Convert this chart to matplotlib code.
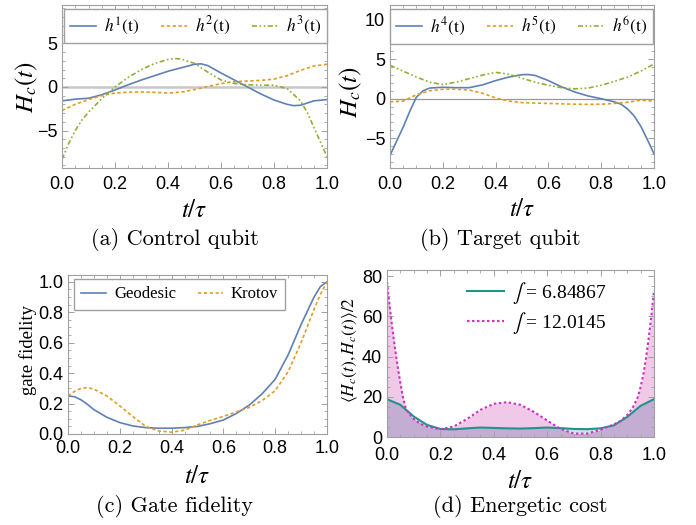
import numpy as np
import matplotlib
matplotlib.use("Agg")
import matplotlib.pyplot as plt
from matplotlib.ticker import MultipleLocator

plt.rcParams['mathtext.fontset'] = 'stix'
plt.rcParams['font.family'] = ['Liberation Sans', 'DejaVu Sans']

# ---------------- data ----------------
t_a = [0, 0.05, 0.1, 0.15, 0.2, 0.25, 0.3, 0.35, 0.4, 0.45, 0.5, 0.525, 0.55, 0.6, 0.65, 0.7, 0.75, 0.8, 0.85, 0.875, 0.9, 0.95, 1.0]
h1 = [-1.6, -1.4, -1.3, -0.9, -0.35, 0.25, 0.8, 1.3, 1.8, 2.2, 2.6, 2.65, 2.45, 1.6, 0.8, 0.0, -0.8, -1.5, -2.0, -2.15, -2.1, -1.6, -1.45]
t_h2 = [0, 0.05, 0.1, 0.15, 0.2, 0.25, 0.3, 0.35, 0.4, 0.45, 0.5, 0.55, 0.6, 0.65, 0.7, 0.75, 0.8, 0.85, 0.9, 0.95, 1.0]
h2 = [-2.7, -2.0, -1.45, -1.0, -0.7, -0.6, -0.57, -0.62, -0.7, -0.6, -0.3, 0.05, 0.38, 0.6, 0.68, 0.75, 0.9, 1.3, 1.9, 2.4, 2.6]
t_h3 = [0, 0.025, 0.05, 0.075, 0.1, 0.15, 0.2, 0.25, 0.3, 0.35, 0.4, 0.43, 0.45, 0.5, 0.55, 0.6, 0.65, 0.7, 0.75, 0.8, 0.85, 0.9, 0.925, 0.95, 0.975, 1.0]
h3 = [-8.3, -6.5, -5.0, -3.8, -2.9, -1.35, 0.0, 1.1, 2.0, 2.7, 3.15, 3.25, 3.2, 2.7, 1.7, 0.8, 0.4, 0.25, 0.2, 0.2, -0.2, -1.6, -2.9, -4.6, -6.3, -8.0]

t_h4 = [0, 0.025, 0.05, 0.075, 0.1, 0.125, 0.15, 0.2, 0.25, 0.3, 0.35, 0.4, 0.45, 0.5, 0.525, 0.55, 0.6, 0.65, 0.7, 0.75, 0.8, 0.85, 0.875, 0.9, 0.925, 0.95, 0.975, 1.0]
h4 = [-7.2, -5.4, -3.6, -1.6, 0.2, 1.0, 1.35, 1.45, 1.4, 1.4, 1.75, 2.3, 2.75, 3.05, 3.07, 2.95, 2.3, 1.5, 0.85, 0.35, 0.0, -0.4, -0.7, -1.3, -2.2, -3.5, -5.2, -7.0]
t_b = [0, 0.05, 0.1, 0.15, 0.2, 0.25, 0.3, 0.35, 0.4, 0.45, 0.5, 0.55, 0.6, 0.65, 0.7, 0.75, 0.8, 0.85, 0.9, 0.95, 1.0]
h5 = [-0.4, -0.3, 0.5, 1.0, 1.2, 1.2, 1.1, 0.7, 0.1, -0.3, -0.5, -0.55, -0.6, -0.65, -0.7, -0.72, -0.7, -0.6, -0.45, -0.2, -0.3]
h6 = [4.25, 3.5, 2.75, 2.1, 1.8, 2.1, 2.55, 3.0, 3.35, 3.1, 2.6, 2.1, 1.7, 1.4, 1.25, 1.35, 1.7, 2.2, 2.75, 3.5, 4.4]

t_c = [0, 0.025, 0.05, 0.075, 0.1, 0.15, 0.2, 0.25, 0.3, 0.35, 0.4, 0.45, 0.5, 0.55, 0.6, 0.65, 0.7, 0.75, 0.8, 0.85, 0.9, 0.95, 0.975, 1.0]
geodesic = [0.25, 0.245, 0.225, 0.195, 0.16, 0.11, 0.075, 0.053, 0.042, 0.038, 0.038, 0.042, 0.05, 0.068, 0.092, 0.135, 0.19, 0.265, 0.36, 0.52, 0.72, 0.9, 0.97, 1.0]
krotov = [0.25, 0.28, 0.30, 0.305, 0.295, 0.25, 0.185, 0.115, 0.05, 0.02, 0.012, 0.025, 0.06, 0.09, 0.115, 0.145, 0.175, 0.22, 0.285, 0.41, 0.6, 0.82, 0.92, 1.0]

t_d1 = [0, 0.05, 0.1, 0.15, 0.2, 0.25, 0.3, 0.35, 0.4, 0.45, 0.5, 0.55, 0.6, 0.65, 0.7, 0.75, 0.8, 0.85, 0.9, 0.95, 1.0]
cost_geo = [18.8, 16.0, 10.2, 6.0, 4.0, 3.8, 4.3, 4.7, 4.5, 4.3, 4.2, 4.4, 4.7, 4.4, 4.0, 3.9, 4.3, 5.8, 10.0, 15.5, 18.8]
t_d2 = [0, 0.01, 0.02, 0.03, 0.04, 0.05, 0.06, 0.07, 0.08, 0.1, 0.125, 0.15, 0.2, 0.25, 0.3, 0.35, 0.4, 0.45, 0.5, 0.55, 0.6, 0.65, 0.7, 0.75, 0.8, 0.85, 0.875, 0.9, 0.92, 0.94, 0.95, 0.96, 0.97, 0.98, 0.99, 1.0]
cost_krot = [77, 65, 54, 44, 35, 27, 19.5, 14.5, 12, 9, 6.5, 5.2, 3.8, 5.2, 9.0, 13.5, 16.5, 17.3, 16.0, 12.5, 8.2, 4.0, 1.7, 1.7, 3.6, 6.3, 8.0, 11.0, 14.5, 20, 25, 31, 39, 49, 60, 73]

blue, orange, green = '#5E81B5', '#E19C24', '#8FB032'
teal, magenta = '#23918C', '#CC33C0'
frame_col = '#A0A0A0'
dash_or = (0, (2, 1.5))
dash_gr = (0, (3, 1.5, 1, 1.5, 1, 1.5))
LW = 1.2

fig = plt.figure(figsize=(6.96, 5.25), dpi=100)
W, H = 696, 525

def make_ax(x0, x1, y0, y1):
    return fig.add_axes([x0 / W, 1 - y1 / H, (x1 - x0) / W, (y1 - y0) / H])

def style(ax, xpad, ypad, ymin_loc):
    for s in ax.spines.values():
        s.set_color(frame_col)
        s.set_linewidth(0.8)
    ax.tick_params(which='both', direction='in', top=True, right=True, colors=frame_col,
                   labelcolor='black', labelsize=13)
    ax.tick_params(which='major', length=4, width=0.7)
    ax.tick_params(which='minor', length=2, width=0.6)
    ax.tick_params(axis='x', pad=xpad)
    ax.tick_params(axis='y', pad=ypad)
    ax.set_xlim(0, 1)
    ax.xaxis.set_major_locator(MultipleLocator(0.2))
    ax.xaxis.set_minor_locator(MultipleLocator(0.05))
    ax.yaxis.set_minor_locator(MultipleLocator(ymin_loc))
    ax.xaxis.set_major_formatter(matplotlib.ticker.FormatStrFormatter('%.1f'))

leg_kw = dict(ncol=3, fontsize=12.5, frameon=True, fancybox=False, edgecolor=frame_col,
              handlelength=1.5, handletextpad=0.45, columnspacing=1.25, borderpad=0.35,
              borderaxespad=0, framealpha=1)

# ---------- (a) ----------
axa = make_ax(62, 327, 5, 168)
axa.axhline(0, color='#C8C8C8', lw=1.8, zorder=1)
axa.plot(t_a, h1, color=blue, lw=LW, label=r'$h^1(\mathrm{t})$')
axa.plot(t_h2, h2, color=orange, lw=LW, ls=dash_or, label=r'$h^2(\mathrm{t})$')
axa.plot(t_h3, h3, color=green, lw=LW, ls=dash_gr, label=r'$h^3(\mathrm{t})$')
axa.set_ylim(-9.3, 9.4)
axa.yaxis.set_major_locator(MultipleLocator(5))
style(axa, 6, 3.5, 1)
axa.legend(loc='upper center', bbox_to_anchor=(0.504, 0.975), **leg_kw)

# ---------- (b) ----------
axb = make_ax(390, 654, 5, 168)
axb.axhline(0, color='#999999', lw=0.9, zorder=1)
axb.plot(t_h4, h4, color=blue, lw=LW, label=r'$h^4(\mathrm{t})$')
axb.plot(t_b, h5, color=orange, lw=LW, ls=dash_or, label=r'$h^5(\mathrm{t})$')
axb.plot(t_b, h6, color=green, lw=LW, ls=dash_gr, label=r'$h^6(\mathrm{t})$')
axb.set_ylim(-8.8, 11.9)
axb.yaxis.set_major_locator(MultipleLocator(5))
style(axb, 6, 3.5, 1)
axb.legend(loc='upper center', bbox_to_anchor=(0.498, 0.975), **leg_kw)

# ---------- (c) ----------
axc = make_ax(68, 327, 275, 434)
axc.plot(t_c, geodesic, color=blue, lw=LW, label='Geodesic')
axc.plot(t_c, krotov, color=orange, lw=LW, ls=dash_or, label='Krotov')
axc.set_ylim(0, 1.045)
axc.yaxis.set_major_locator(MultipleLocator(0.2))
style(axc, 4.5, 3.5, 0.05)
axc.yaxis.set_major_formatter(matplotlib.ticker.FormatStrFormatter('%.1f'))
axc.legend(loc='upper left', bbox_to_anchor=(0.023, 0.975), ncol=2,
           prop={'family': 'Liberation Serif', 'size': 12}, frameon=True, fancybox=False,
           edgecolor=frame_col, handlelength=1.5, handletextpad=0.45, columnspacing=1.3,
           borderaxespad=0, borderpad=0.45, framealpha=1)

# ---------- (d) ----------
axd = make_ax(387, 654, 270, 437)
g = np.array(cost_geo)
k_on_g = np.interp(t_d1, t_d2, cost_krot)
axd.fill_between(t_d2, 0, cost_krot, color='#F0C8E8', lw=0)
axd.fill_between(t_d1, 0, np.minimum(g, k_on_g), color='#C3ADD3', lw=0)
axd.fill_between(t_d1, k_on_g, g, where=g > k_on_g, interpolate=True, color='#C6E6E3', lw=0)
axd.plot(t_d1, cost_geo, color=teal, lw=1.5, label=r'$\int$ = 6.84867')
axd.plot(t_d2, cost_krot, color=magenta, lw=1.5, ls=(0, (1.2, 1.2)), label=r'$\int$ = 12.0145')
axd.set_ylim(0, 83)
axd.yaxis.set_major_locator(MultipleLocator(20))
style(axd, 7, 3.5, 5)
axd.legend(loc='upper left', bbox_to_anchor=(0.27, 0.985), ncol=1,
           prop={'family': ['Liberation Serif', 'DejaVu Sans'], 'size': 14}, frameon=False,
           handlelength=1.9, borderaxespad=0, labelspacing=0.2, handletextpad=0.4)

# ---------- labels ----------
lab_font = 18

def xlab(ax, y_px):
    bb = ax.get_position()
    fig.text(bb.x0 + bb.width / 2, 1 - y_px / H, r'$t/\tau$', ha='center', va='center', fontsize=lab_font)

xlab(axa, 210)
xlab(axb, 209)
xlab(axc, 476)
xlab(axd, 481)

fig.text(27 / W, 1 - 87 / H, r'$H_c(t)$', rotation=90, ha='center', va='center', fontsize=lab_font)
fig.text(351 / W, 1 - 92 / H, r'$H_c(t)$', rotation=90, ha='center', va='center', fontsize=lab_font)
fig.text(28 / W, 1 - 350 / H, 'gate fidelity', rotation=90, ha='center', va='center', fontsize=13.5,
         family='Liberation Serif')
fig.text(350 / W, 1 - 350 / H, r'$\langle H_c(t), H_c(t)\rangle/2$', rotation=90, ha='center', va='center',
         fontsize=12.5)

cap_kw = dict(ha='center', va='center', fontsize=16, family='cmr10')
fig.text(175 / W, 1 - 240 / H, '(a) Control qubit', **cap_kw)
fig.text(500 / W, 1 - 240 / H, '(b) Target qubit', **cap_kw)
fig.text(175 / W, 1 - 507 / H, '(c) Gate fidelity', **cap_kw)
fig.text(520 / W, 1 - 507 / H, '(d) Energetic cost', **cap_kw)

fig.savefig('out.png', dpi=100)
